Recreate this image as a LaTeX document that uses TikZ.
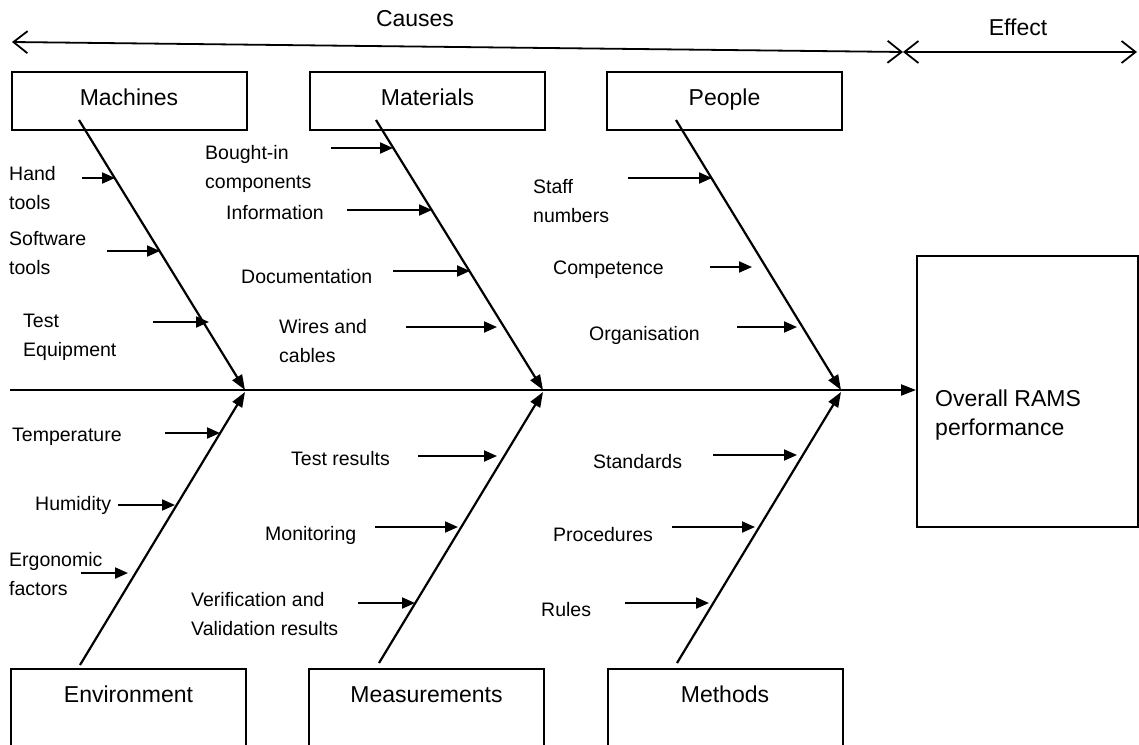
\documentclass[tikz,border=0pt]{standalone}
\usepackage{fontspec}
\setmainfont{Liberation Sans}
\usetikzlibrary{arrows.meta}
\begin{document}
\begin{tikzpicture}[x=1pt,y=-1pt,
  catbox/.style={draw, line width=2pt, minimum width=235pt, inner sep=0pt,
    font=\fontsize{23}{27}\selectfont, text height=17pt, text depth=9pt},
  topbox/.style={catbox, minimum height=58pt},
  botbox/.style={catbox, anchor=north, inner ysep=16pt, text depth=60pt},
  head/.style={inner sep=0pt, font=\fontsize{23}{27}\selectfont},
  lbl/.style={anchor=west, inner sep=0pt, align=left, font=\fontsize{19.5}{29}\selectfont},
  feed/.style={-{Triangle[length=13pt,width=11pt]}, line width=2pt},
  bone/.style={-{Triangle[length=15pt,width=11pt]}, line width=2.2pt},
  span/.style={{Straight Barb[length=14pt,width=22pt]}-{Straight Barb[length=14pt,width=22pt]}, line width=1.8pt}]
\useasboundingbox (0,0) rectangle (1139,744);
\clip (0,0) rectangle (1139,744);

% headings and the causes / effect spans
\node[head] (causes) at (415,19) {Causes};
\node[head] (effecthd) at (1018,27) {Effect};
\coordinate (cl) at (12,42);
\coordinate (cm) at (903,52);
\coordinate (er) at (1137,52);
\draw[span] (cl) -- (cm);
\draw[span] (cm) -- (er);

% category boxes
\node[topbox] (machines) at (129,101) {Machines};
\node[topbox] (materials) at (427.5,101) {Materials};
\node[topbox] (people) at (724.5,101) {People};
\node[botbox] (environment) at (128.5,668) {Environment};
\node[botbox] (measurements) at (426.5,668) {Measurements};
\node[botbox] (methods) at (725,668) {Methods};

% effect box
\node[draw, line width=2pt, minimum width=221pt, minimum height=271pt, inner sep=0pt] (effect) at (1027.5,391.5) {};
\node[lbl, font=\fontsize{23}{29}\selectfont] (rams) at (935,415) {Overall RAMS\\performance};

% spine
\coordinate (spine) at (10,390);
\draw[bone] (spine) -- (spine -| effect.west);

% main bones
\foreach \n/\ax/\ay/\bx/\by in {mach/79/120/245/390, mat/376/120/543/390, peo/676/120/841/390,
    env/80/665/245/392, meas/379/663/543/392, meth/677/663/841/392} {
  \coordinate (\n-a) at (\ax,\ay);
  \coordinate (\n-b) at (\bx,\by);
  \draw[bone] (\n-a) -- (\n-b);
}

% cause arrows
\foreach \n/\sx/\ex/\y in {hand/82/115/178, soft/107/160/251, teq/153/209/322,
    bought/331/393/148, info/347/432/210, doc/393/470/271, wires/406/497/327,
    staff/628/712/178, comp/710/752/267, org/737/797/327,
    temp/165/220/433, humid/118/175/505, ergo/81/128/573,
    testres/418/497/456, monit/375/458/527, verif/358/415/603,
    stand/713/797/455, proc/672/755/527, rules/625/709/603} {
  \coordinate (\n-s) at (\sx,\y);
  \coordinate (\n-e) at (\ex,\y);
  \draw[feed] (\n-s) -- (\n-e);
}

% cause labels
\node[lbl] (l-hand) at (9,188.5) {Hand\\tools};
\node[lbl] (l-soft) at (9,253.5) {Software\\tools};
\node[lbl] (l-teq) at (23,337.5) {Test\\Equipment};
\node[lbl] (l-bought) at (205,169) {Bought-in\\components};
\node[lbl] (l-info) at (226,213) {Information};
\node[lbl] (l-doc) at (241,277) {Documentation};
\node[lbl] (l-wires) at (279,341.5) {Wires and\\cables};
\node[lbl] (l-staff) at (533,201) {Staff\\numbers};
\node[lbl] (l-comp) at (553,270) {Competence};
\node[lbl] (l-org) at (589,335) {Organisation};
\node[lbl] (l-temp) at (12,437) {Temperature};
\node[lbl] (l-humid) at (35,505) {Humidity};
\node[lbl] (l-ergo) at (9,574) {Ergonomic\\factors};
\node[lbl] (l-testres) at (291,459) {Test results};
\node[lbl] (l-monit) at (265,535) {Monitoring};
\node[lbl] (l-verif) at (191,614.5) {Verification and\\Validation results};
\node[lbl] (l-stand) at (593,462) {Standards};
\node[lbl] (l-proc) at (553,535) {Procedures};
\node[lbl] (l-rules) at (541,610) {Rules};
\end{tikzpicture}
\end{document}
